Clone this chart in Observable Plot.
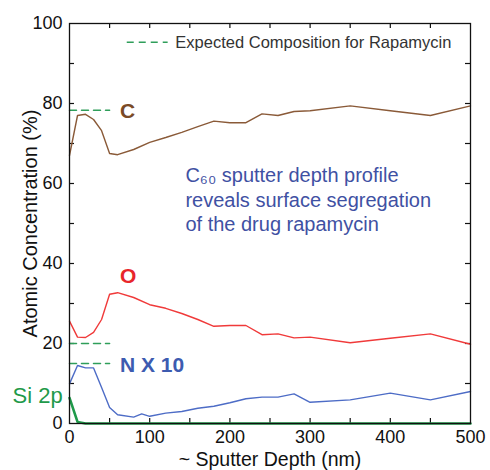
<!DOCTYPE html>
<html>
<head>
<meta charset="utf-8">
<script src="https://cdn.jsdelivr.net/npm/d3@7"></script>
<script src="https://cdn.jsdelivr.net/npm/@observablehq/plot@0.6"></script>
<style>
  html, body { margin: 0; padding: 0; background: #fff; }
  #chart { width: 490px; height: 470px; }
  svg { font-family: "Liberation Sans", Arial, sans-serif; }
</style>
</head>
<body>
<div id="chart"></div>
<script>
// Sputter depth (nm) for C, O, Si
const depth = [0, 10, 20, 30, 40, 50, 60, 80, 100, 120, 140, 160, 180, 200, 220, 240, 260, 280, 300, 350, 400, 450, 500];
const carbon = [67, 77, 77.3, 76, 73.2, 67.5, 67.2, 68.5, 70.3, 71.5, 72.8, 74.2, 75.6, 75.2, 75.2, 77.4, 77, 78, 78.2, 79.4, 78.2, 77, 79.4];
const oxygen = [25.6, 21.6, 21.5, 22.8, 26, 32.3, 32.7, 31.5, 29.7, 28.8, 27.5, 26, 24.3, 24.5, 24.5, 22.2, 22.4, 21.4, 21.6, 20.2, 21.3, 22.4, 19.8];
const silicon = [6.4, 0.4, 0, 0, 0, 0, 0, 0, 0, 0, 0, 0, 0, 0, 0, 0, 0, 0, 0, 0, 0, 0, 0];
// Nitrogen (plotted as N x 10)
const nDepth = [0, 10, 20, 30, 40, 50, 60, 80, 90, 100, 120, 140, 160, 180, 200, 220, 240, 260, 280, 300, 350, 400, 450, 500];
const nitrogenX10 = [9.9, 14.5, 13.9, 13.9, 9, 4, 2.2, 1.6, 2.4, 1.8, 2.6, 3, 3.8, 4.3, 5.2, 6.2, 6.6, 6.6, 7.4, 5.3, 5.9, 7.6, 5.9, 8];
// Expected composition for rapamycin (C, O, N x 10), drawn over the first 50 nm
const expectedNames = ["C", "O", "N X 10"];
const expectedValues = [78.3, 20, 15];
const expectedSpan = [0, 50];
// Tick values
const xTickLabels = [0, 100, 200, 300, 400, 500];
const yTickLabels = [0, 20, 40, 60, 80, 100];
const xTicks = [50, 100, 150, 200, 250, 300, 350, 400, 450];
const yTicks = [10, 20, 30, 40, 50, 60, 70, 80, 90];

const W = 490, H = 470;
const mL = 69, mR = 20, mT = 23, mB = 47;
const pw = W - mL - mR, ph = H - mT - mB;

const cData = depth.map((d, i) => ({d, v: carbon[i]}));
const oData = depth.map((d, i) => ({d, v: oxygen[i]}));
const sData = depth.map((d, i) => ({d, v: silicon[i]}));
const nData = nDepth.map((d, i) => ({d, v: nitrogenX10[i]}));
const expData = expectedNames.flatMap((name, i) => expectedSpan.map(d => ({name, d, v: expectedValues[i]})));

const green = "#2f9e5a";
const tickLen = 5;

const chart = Plot.plot({
  width: W, height: H,
  marginLeft: mL, marginRight: mR, marginTop: mT, marginBottom: mB,
  style: {fontFamily: "Liberation Sans, Arial, sans-serif", background: "white", color: "#111"},
  x: {domain: [0, 500]},
  y: {domain: [0, 100]},
  marks: [
    // inward ticks on all four sides
    Plot.ruleX(xTicks, {x: d => d, insetTop: ph - tickLen, stroke: "#111", strokeWidth: 1.2}),
    Plot.ruleX(xTicks, {x: d => d, insetBottom: ph - tickLen, stroke: "#111", strokeWidth: 1.2}),
    Plot.ruleY(yTicks, {y: d => d, insetRight: pw - tickLen, stroke: "#111", strokeWidth: 1.2}),
    Plot.ruleY(yTicks, {y: d => d, insetLeft: pw - tickLen, stroke: "#111", strokeWidth: 1.2}),
    Plot.axisX(xTickLabels, {anchor: "bottom", tickSize: 0, tickPadding: 7, fontSize: 18, label: null}),
    Plot.axisY(yTickLabels, {anchor: "left", tickSize: 0, tickPadding: 7, fontSize: 18, label: null}),
    // axis titles
    Plot.text(["~ Sputter Depth (nm)"], {frameAnchor: "bottom", text: d => d, textAnchor: "middle", lineAnchor: "middle", dy: 36, fontSize: 19.5, fill: "#111"}),
    Plot.text(["Atomic Concentration (%)"], {frameAnchor: "left", text: d => d, textAnchor: "middle", lineAnchor: "middle", rotate: -90, dx: -39, fontSize: 20, fill: "#111"}),
    // expected composition
    Plot.line(expData, {x: "d", y: "v", z: "name", stroke: green, strokeWidth: 1.5, strokeDasharray: "7,5"}),
    // series
    Plot.line(sData, {x: "d", y: "v", stroke: "#1f9a4a", strokeWidth: 2.6}),
    Plot.line(nData, {x: "d", y: "v", stroke: "#4d6cc6", strokeWidth: 1.4}),
    Plot.line(oData, {x: "d", y: "v", stroke: "#f03a3a", strokeWidth: 1.4}),
    Plot.line(cData, {x: "d", y: "v", stroke: "#8a5a38", strokeWidth: 1.4}),
    Plot.frame({stroke: "#111", strokeWidth: 1.3}),
    // series labels
    Plot.text(["C"], {x: 63, y: 78.1, text: d => d, textAnchor: "start", fontSize: 21, fontWeight: "bold", fill: "#7a4a26"}),
    Plot.text(["O"], {x: 63, y: 36.9, text: d => d, textAnchor: "start", fontSize: 21, fontWeight: "bold", fill: "#e8262b"}),
    Plot.text(["N X 10"], {x: 63, y: 14.6, text: d => d, textAnchor: "start", fontSize: 21, fontWeight: "bold", fill: "#3d5bb0"}),
    Plot.text(["Si 2p"], {x: -8.5, y: 7, text: d => d, textAnchor: "end", fontSize: 22, fill: "#1f9a4a"}),
    // annotation
    Plot.text(["C\u2086\u2080 sputter depth profile\nreveals surface segregation\nof the drug rapamycin"], {x: 144.5, y: 56.2, text: d => d, textAnchor: "start", lineAnchor: "middle", fontSize: 20, lineHeight: 1.22, fill: "#3f51a3"}),
    // legend
    Plot.ruleY([95.3], {y: d => d, x1: 72, x2: 123, stroke: green, strokeWidth: 1.5, strokeDasharray: "7,5"}),
    Plot.text(["Expected Composition for Rapamycin"], {x: 132, y: 95.3, text: d => d, textAnchor: "start", fontSize: 16.5, fill: "#333"})
  ]
});
document.getElementById("chart").appendChild(chart);
</script>
</body>
</html>
